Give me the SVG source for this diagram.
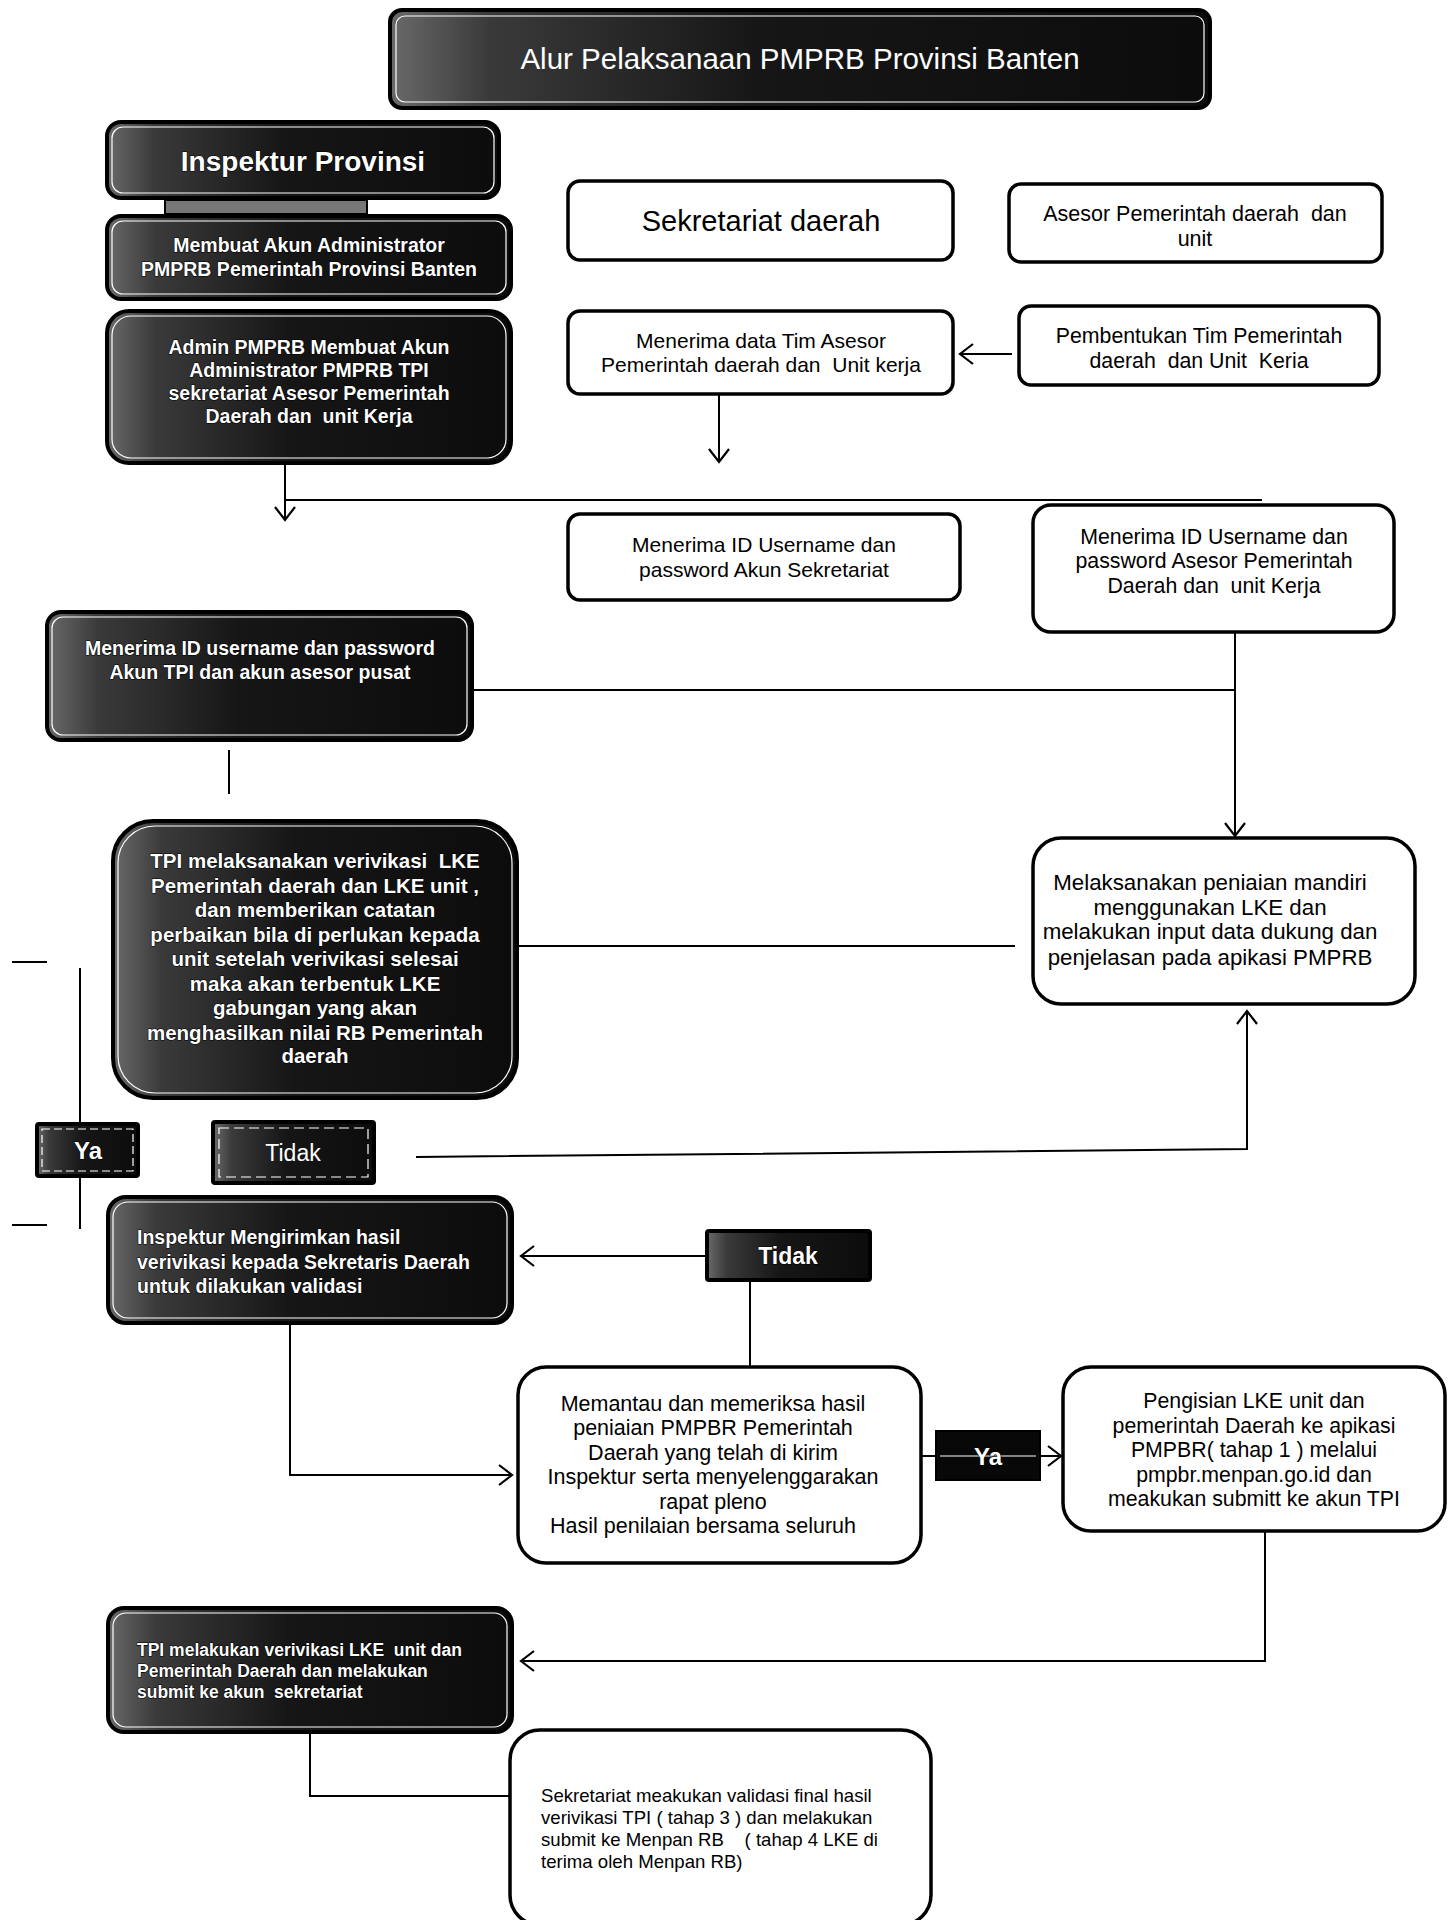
<svg xmlns="http://www.w3.org/2000/svg" width="1454" height="1920" viewBox="0 0 1454 1920">
<defs>
<linearGradient id="dk" x1="0" y1="0" x2="1" y2="0">
<stop offset="0" stop-color="#6a6a6a"/>
<stop offset="0.12" stop-color="#3a3a3a"/>
<stop offset="0.45" stop-color="#161616"/>
<stop offset="1" stop-color="#0c0c0c"/>
</linearGradient>
<marker id="ah" markerUnits="userSpaceOnUse" markerWidth="16" markerHeight="22" refX="14" refY="11" orient="auto">
<path d="M1,1 L14,11 L1,21" fill="none" stroke="#000" stroke-width="2.2"/>
</marker>
<style>
text{white-space:pre}
.wb{fill:#fff;stroke:#000;stroke-width:3.5}
.db{fill:url(#dk);stroke:#000;stroke-width:4}
.dbi{fill:none;stroke:#fff;stroke-width:1.2}
.t{font-family:"Liberation Sans",Arial,sans-serif;fill:#000}
.ot{font-family:"Liberation Sans",Arial,sans-serif;font-weight:bold;fill:#fff;stroke:#000;stroke-width:1.2;paint-order:stroke fill;stroke-linejoin:round}
.wt{font-family:"Liberation Sans",Arial,sans-serif;fill:#fff}
.c{text-anchor:middle}
.ln{fill:none;stroke:#000;stroke-width:2}
</style>
</defs>

<g id="connectors">
<line class="ln" x1="1012" y1="354" x2="960" y2="354" marker-end="url(#ah)"/>
<line class="ln" x1="719" y1="394" x2="719" y2="462" marker-end="url(#ah)"/>
<line class="ln" x1="285" y1="463" x2="285" y2="520" marker-end="url(#ah)"/>
<line class="ln" x1="285" y1="500" x2="1262" y2="500"/>
<line class="ln" x1="1235" y1="632" x2="1235" y2="836" marker-end="url(#ah)"/>
<line class="ln" x1="472" y1="690" x2="1235" y2="690"/>
<line class="ln" x1="229" y1="750" x2="229" y2="794"/>
<line class="ln" x1="1015" y1="946" x2="517" y2="946"/>
<polyline class="ln" points="416,1157 1247,1149 1247,1011" marker-end="url(#ah)"/>
<line class="ln" x1="80" y1="968" x2="80" y2="1229"/>
<line class="ln" x1="12" y1="962" x2="47" y2="962"/>
<line class="ln" x1="12" y1="1225" x2="47" y2="1225"/>
<line class="ln" x1="707" y1="1256" x2="521" y2="1256" marker-end="url(#ah)"/>
<line class="ln" x1="750" y1="1280" x2="750" y2="1367"/>
<polyline class="ln" points="290,1323 290,1475 512,1475" marker-end="url(#ah)"/>
<line class="ln" x1="921" y1="1456" x2="1061" y2="1456" marker-end="url(#ah)"/>
<polyline class="ln" points="1265,1531 1265,1661 521,1661" marker-end="url(#ah)"/>
<polyline class="ln" points="310,1732 310,1796 536,1796" marker-end="url(#ah)"/>
</g>

<g id="title">
<rect class="db" x="390" y="10" width="820" height="98" rx="12"/>
<rect class="dbi" x="396" y="16" width="808" height="86" rx="9"/>
<text class="wt c" x="800" y="69" font-size="29.5">Alur Pelaksanaan PMPRB Provinsi Banten</text>
</g>

<g id="inspektur">
<rect class="db" x="107" y="122" width="392" height="76" rx="14"/>
<rect class="dbi" x="112" y="127" width="382" height="66" rx="11"/>
<text class="ot c" x="303" y="171" font-size="28">Inspektur Provinsi</text>
</g>

<g id="bar">
<rect x="165" y="200" width="202" height="14" fill="#777" stroke="#000" stroke-width="2"/>
</g>

<g id="membuat-akun">
<rect class="db" x="107" y="216" width="404" height="83" rx="14"/>
<rect class="dbi" x="112" y="221" width="394" height="73" rx="11"/>
<text class="ot c" x="309" y="252" font-size="19.5">Membuat Akun Administrator</text>
<text class="ot c" x="309" y="276" font-size="19.5">PMPRB Pemerintah Provinsi Banten</text>
</g>

<g id="admin-pmprb">
<rect class="db" x="107" y="311" width="404" height="152" rx="22"/>
<rect class="dbi" x="112" y="316" width="394" height="142" rx="19"/>
<text class="ot c" x="309" y="354" font-size="19.5">Admin PMPRB Membuat Akun</text>
<text class="ot c" x="309" y="377" font-size="19.5">Administrator PMPRB TPI</text>
<text class="ot c" x="309" y="400" font-size="19.5">sekretariat Asesor Pemerintah</text>
<text class="ot c" x="309" y="423" font-size="19.5">Daerah dan  unit Kerja</text>
</g>

<g id="sekretariat-daerah">
<rect class="wb" x="568" y="181" width="385" height="79" rx="12"/>
<text class="t c" x="761" y="231" font-size="29">Sekretariat daerah</text>
</g>

<g id="asesor">
<rect class="wb" x="1009" y="184" width="373" height="78" rx="12"/>
<text class="t c" x="1195" y="221" font-size="21.5">Asesor Pemerintah daerah  dan</text>
<text class="t c" x="1195" y="246" font-size="21.5">unit</text>
</g>

<g id="menerima-data">
<rect class="wb" x="568" y="311" width="385" height="83" rx="12"/>
<text class="t c" x="761" y="348" font-size="21">Menerima data Tim Asesor</text>
<text class="t c" x="761" y="372" font-size="21">Pemerintah daerah dan  Unit kerja</text>
</g>

<g id="pembentukan">
<rect class="wb" x="1019" y="306" width="360" height="79" rx="12"/>
<text class="t c" x="1199" y="343" font-size="21.3">Pembentukan Tim Pemerintah</text>
<text class="t c" x="1199" y="368" font-size="21.3">daerah  dan Unit  Keria</text>
</g>

<g id="menerima-id-sekretariat">
<rect class="wb" x="568" y="514" width="392" height="86" rx="12"/>
<text class="t c" x="764" y="552" font-size="21">Menerima ID Username dan</text>
<text class="t c" x="764" y="577" font-size="21">password Akun Sekretariat</text>
</g>

<g id="menerima-id-asesor">
<rect class="wb" x="1033" y="505" width="361" height="127" rx="18"/>
<text class="t c" x="1214" y="544" font-size="21.3">Menerima ID Username dan</text>
<text class="t c" x="1214" y="568" font-size="21.3">password Asesor Pemerintah</text>
<text class="t c" x="1214" y="593" font-size="21.3">Daerah dan  unit Kerja</text>
</g>

<g id="menerima-id-tpi">
<rect class="db" x="47" y="612" width="425" height="128" rx="14"/>
<rect class="dbi" x="52" y="617" width="415" height="118" rx="11"/>
<text class="ot c" x="260" y="655" font-size="19.5">Menerima ID username dan password</text>
<text class="ot c" x="260" y="679" font-size="19.5">Akun TPI dan akun asesor pusat</text>
</g>

<g id="tpi-melaksanakan">
<rect class="db" x="113" y="821" width="404" height="277" rx="40"/>
<rect class="dbi" x="118" y="826" width="394" height="267" rx="37"/>
<text class="ot c" x="315" y="868" font-size="20.5">TPI melaksanakan verivikasi  LKE</text>
<text class="ot c" x="315" y="893" font-size="20.5">Pemerintah daerah dan LKE unit ,</text>
<text class="ot c" x="315" y="917" font-size="20.5">dan memberikan catatan</text>
<text class="ot c" x="315" y="942" font-size="20.5">perbaikan bila di perlukan kepada</text>
<text class="ot c" x="315" y="966" font-size="20.5">unit setelah verivikasi selesai</text>
<text class="ot c" x="315" y="991" font-size="20.5">maka akan terbentuk LKE</text>
<text class="ot c" x="315" y="1015" font-size="20.5">gabungan yang akan</text>
<text class="ot c" x="315" y="1040" font-size="20.5">menghasilkan nilai RB Pemerintah</text>
<text class="ot c" x="315" y="1063" font-size="20.5">daerah</text>
</g>

<g id="melaksanakan">
<rect class="wb" x="1033" y="838" width="382" height="166" rx="28"/>
<text class="t c" x="1210" y="890" font-size="22.3">Melaksanakan peniaian mandiri</text>
<text class="t c" x="1210" y="915" font-size="22.3">menggunakan LKE dan</text>
<text class="t c" x="1210" y="939" font-size="22.3">melakukan input data dukung dan</text>
<text class="t c" x="1210" y="965" font-size="22.3">penjelasan pada apikasi PMPRB</text>
</g>

<g id="ya-1">
<rect class="db" x="37" y="1124" width="101" height="52" rx="2"/>
<rect class="dbi" x="42" y="1129" width="91" height="42" stroke-dasharray="8 4"/>
<text class="ot c" x="88" y="1159" font-size="24">Ya</text>
</g>

<g id="tidak-1">
<rect class="db" x="213" y="1122" width="161" height="61" rx="2"/>
<rect class="dbi" x="219" y="1128" width="149" height="49" stroke-dasharray="10 5"/>
<text class="wt c" x="293" y="1161" font-size="23">Tidak</text>
</g>

<g id="inspektur-mengirimkan">
<rect class="db" x="108" y="1197" width="404" height="126" rx="18"/>
<rect class="dbi" x="113" y="1202" width="394" height="116" rx="15"/>
<text class="ot" x="137" y="1244" font-size="19.5">Inspektur Mengirimkan hasil</text>
<text class="ot" x="137" y="1269" font-size="19.5">verivikasi kepada Sekretaris Daerah</text>
<text class="ot" x="137" y="1293" font-size="19.5">untuk dilakukan validasi</text>
</g>

<g id="tidak-2">
<rect class="db" x="707" y="1231" width="163" height="49" rx="2"/>
<text class="ot c" x="788" y="1264" font-size="23">Tidak</text>
</g>

<g id="memantau">
<rect class="wb" x="518" y="1367" width="403" height="196" rx="28"/>
<text class="t c" x="713" y="1411" font-size="21.5">Memantau dan memeriksa hasil</text>
<text class="t c" x="713" y="1435" font-size="21.5">peniaian PMPBR Pemerintah</text>
<text class="t c" x="713" y="1460" font-size="21.5">Daerah yang telah di kirim</text>
<text class="t c" x="713" y="1484" font-size="21.5">Inspektur serta menyelenggarakan</text>
<text class="t c" x="713" y="1509" font-size="21.5">rapat pleno</text>
<text class="t c" x="703" y="1533" font-size="21.5">Hasil penilaian bersama seluruh</text>
</g>

<g id="ya-2">
<rect x="936" y="1431" width="104" height="49" fill="#080808" stroke="#000" stroke-width="2"/>
<line x1="940" y1="1456" x2="1036" y2="1456" stroke="#fff" stroke-width="1.2"/>
<text class="ot c" x="988" y="1465" font-size="24">Ya</text>
</g>

<g id="pengisian">
<rect class="wb" x="1063" y="1367" width="382" height="164" rx="28"/>
<text class="t c" x="1254" y="1408" font-size="21.3">Pengisian LKE unit dan</text>
<text class="t c" x="1254" y="1433" font-size="21.3">pemerintah Daerah ke apikasi</text>
<text class="t c" x="1254" y="1457" font-size="21.3">PMPBR( tahap 1 ) melalui</text>
<text class="t c" x="1254" y="1482" font-size="21.3">pmpbr.menpan.go.id dan</text>
<text class="t c" x="1254" y="1506" font-size="21.3">meakukan submitt ke akun TPI</text>
</g>

<g id="tpi-melakukan">
<rect class="db" x="108" y="1608" width="404" height="124" rx="16"/>
<rect class="dbi" x="113" y="1613" width="394" height="114" rx="13"/>
<text class="ot" x="137" y="1656" font-size="17.5">TPI melakukan verivikasi LKE  unit dan</text>
<text class="ot" x="137" y="1677" font-size="17.5">Pemerintah Daerah dan melakukan</text>
<text class="ot" x="137" y="1698" font-size="17.5">submit ke akun  sekretariat</text>
</g>

<g id="sekretariat-validasi">
<rect class="wb" x="510" y="1730" width="421" height="195" rx="30"/>
<text class="t" x="541" y="1802" font-size="18.6">Sekretariat meakukan validasi final hasil</text>
<text class="t" x="541" y="1824" font-size="18.6">verivikasi TPI ( tahap 3 ) dan melakukan</text>
<text class="t" x="541" y="1846" font-size="18.6">submit ke Menpan RB    ( tahap 4 LKE di</text>
<text class="t" x="541" y="1868" font-size="18.6">terima oleh Menpan RB)</text>
</g>
</svg>
